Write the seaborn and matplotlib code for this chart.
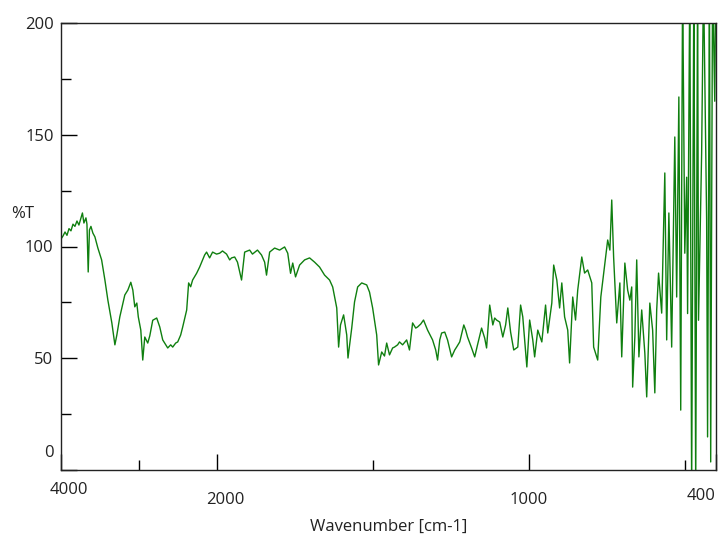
import numpy as np
import pandas as pd
import seaborn as sns
import matplotlib
matplotlib.use("Agg")
import matplotlib.pyplot as plt
from matplotlib.transforms import ScaledTranslation

# Wavenumber (cm-1) and transmittance (%T)
wavenumber = [4000, 3968, 3942, 3917, 3891, 3866, 3840, 3815, 3789, 3764, 3738, 3719, 3700, 3674,
              3661, 3645, 3629, 3610, 3585, 3559, 3521, 3473, 3431, 3393, 3342, 3303, 3278, 3240,
              3176, 3137, 3099, 3073, 3048, 3022, 3003, 2971, 2946, 2920, 2882, 2856, 2818, 2767,
              2728, 2690, 2626, 2588, 2562, 2524, 2498, 2460, 2434, 2383, 2358, 2332, 2307, 2256,
              2217, 2179, 2153, 2128, 2089, 2051, 2000, 1990, 1981, 1968, 1958, 1952, 1942, 1933,
              1920, 1910, 1894, 1885, 1869, 1856, 1846, 1840, 1830, 1814, 1798, 1782, 1772, 1763,
              1756, 1747, 1734, 1718, 1702, 1686, 1670, 1654, 1638, 1628, 1615, 1609, 1603, 1593,
              1583, 1579, 1567, 1558, 1548, 1535, 1519, 1510, 1500, 1487, 1481, 1471, 1462, 1455,
              1446, 1436, 1430, 1420, 1414, 1404, 1391, 1382, 1372, 1362, 1356, 1346, 1337, 1324,
              1308, 1298, 1292, 1285, 1279, 1269, 1260, 1247, 1237, 1231, 1221, 1208, 1202, 1196,
              1183, 1173, 1164, 1151, 1141, 1135, 1125, 1115, 1109, 1103, 1093, 1083, 1074, 1067,
              1058, 1048, 1035, 1026, 1019, 1013, 1006, 997, 987, 981, 971, 958, 946, 939,
              926, 920, 910, 901, 894, 885, 875, 869, 859, 850, 843, 830, 821, 811,
              798, 792, 779, 769, 756, 747, 740, 734, 728, 718, 708, 702, 692, 683,
              676, 670, 667, 660, 654, 647, 638, 628, 622, 612, 603, 596, 590, 584,
              574, 564, 558, 551, 542, 532, 526, 519, 513, 507, 500, 494, 491, 484,
              478, 471, 465, 459, 456, 446, 440, 430, 427, 421, 417, 411, 404, 401]
transmittance = [103, 104.7, 106.5, 105, 108, 107, 110, 109, 111.4, 109.6, 112.8, 115, 110.5, 112.8,
                 110, 88.6, 107.4, 109, 106, 104.3, 99.3, 94, 85, 76, 65.8, 56, 60.4, 68.5,
                 78.3, 80.5, 84, 80.5, 73, 74.7, 68.5, 62.6, 49.2, 59.5, 56.8, 60, 67, 68,
                 64, 58.2, 54.6, 56, 55, 56.8, 57.3, 60.4, 64, 71.6, 83.7, 82, 85, 88,
                 90.8, 94, 96.2, 97.5, 94.9, 97.5, 96.6, 97, 98, 96.6, 94, 94.9, 95.3, 93,
                 85, 97.5, 98.4, 96.6, 98.4, 96.2, 93, 87.2, 97.5, 99.3, 98.4, 99.8, 97, 88,
                 92.6, 86.4, 91.7, 94, 94.9, 93, 90.8, 87.2, 85, 81.9, 72.5, 55, 64.9, 69.4,
                 60.4, 50.1, 63.5, 75.2, 81.9, 83.7, 82.8, 79.6, 72.5, 60.4, 47, 52.8, 51, 56.8,
                 51.5, 54.6, 55, 56, 57.3, 56, 58.2, 53.7, 65.8, 63.5, 64, 65.3, 67.1, 62.6,
                 58.2, 53.7, 49.2, 58.2, 61.3, 61.7, 58.2, 50.6, 53.7, 55, 57.3, 64.9, 62.6, 59.5,
                 54.6, 50.6, 56, 63.5, 59, 54.6, 73.8, 64.9, 68, 67.1, 66.2, 59.5, 64.9, 72.5,
                 61.7, 53.7, 55, 73.8, 68.5, 58.2, 46.1, 67.1, 58.2, 50.6, 62.6, 57.3, 73.8, 61.3,
                 74.7, 91.7, 85, 72.5, 83.7, 68.5, 62.6, 47.9, 77.4, 67.1, 80.5, 95.3, 88.1, 89.5,
                 83.7, 55, 49.2, 77.4, 92.6, 102.9, 98.4, 120.8, 95.3, 65.8, 83.7, 50.6, 92.6, 80.5,
                 76, 81.9, 37.1, 59.5, 94, 50.6, 71.6, 52.3, 32.7, 74.7, 62.6, 34.5, 71.6, 88.1,
                 70.2, 132.9, 58.2, 115, 55, 149, 77.4, 166.9, 26.8, 220, 97, 131, 70, 220,
                 -10, 220, -10, 220, 67, 142, 220, 112, 14.8, 220, 3.6, 220, 165, 220]

x_major = [4000, 2000, 1000, 400]
x_major_labels = ["4000", "2000", "1000", "400"]
x_minor = [3000, 1500, 500]
y_major = [0, 50, 100, 150, 200]
y_major_labels = ["0", "50", "100", "150", "200"]
y_minor = [25, 75, 125, 175]

df = pd.DataFrame({"wn": wavenumber, "T": transmittance})

sns.set_theme(style="white")
plt.rcParams["font.family"] = ["Open Sans", "DejaVu Sans"]

fig = plt.figure(figsize=(7.18, 5.39), dpi=100)
ax = fig.add_axes([60.5 / 718, 69 / 539, (716 - 60.5) / 718, (470 - 23) / 539])

sns.lineplot(data=df, x="wn", y="T", sort=False, estimator=None,
             color="#0f7f0f", linewidth=1.0, ax=ax)


def fwd(x):
    x = np.asarray(x, dtype=float)
    return np.where(x <= 2000, x, 2000 + (x - 2000) / 4.0)


def inv(u):
    u = np.asarray(u, dtype=float)
    return np.where(u <= 2000, u, 2000 + (u - 2000) * 4.0)


ax.set_xscale("function", functions=(fwd, inv))
ax.set_xlim(4000, 400)
ax.set_ylim(0, 200)

ax.set_xticks(x_major)
ax.set_xticklabels(x_major_labels)
ax.set_xticks(x_minor, minor=True)
ax.set_yticks(y_major)
ax.set_yticklabels(y_major_labels)
ax.set_yticks(y_minor, minor=True)

ax.tick_params(which="both", direction="in", colors="black", width=1.0,
               bottom=True, left=True, top=False, right=False,
               labelsize=12, labelcolor="#222222")
ax.tick_params(which="major", length=11.5)
ax.tick_params(which="minor", length=7.2)
ax.tick_params(axis="y", which="major", pad=5)
ax.tick_params(axis="x", which="major", pad=16)

for side in ["left", "bottom", "top", "right"]:
    ax.spines[side].set_visible(True)
    ax.spines[side].set_color("#222222")
    ax.spines[side].set_linewidth(1.0)

ax.set_xlabel("Wavenumber [cm-1]", fontsize=12, color="#222222", labelpad=8)
ax.set_ylabel("")
ax.grid(False)

fig.text(23 / 718, 1 - 214 / 539, "%T", ha="center", va="center", fontsize=12, color="#222222")

# fine positioning of a few tick labels as in the reference
def shift(lbl, dx, dy):
    lbl.set_transform(lbl.get_transform() + ScaledTranslation(dx / 100, dy / 100, fig.dpi_scale_trans))

xl = ax.get_xticklabels()
shift(xl[0], 8, 10)
shift(xl[1], 9, 0)
shift(xl[3], -15, 4)
yl = ax.get_yticklabels()
shift(yl[0], 0, 19)

fig.savefig("out.png", dpi=100, facecolor="white")
